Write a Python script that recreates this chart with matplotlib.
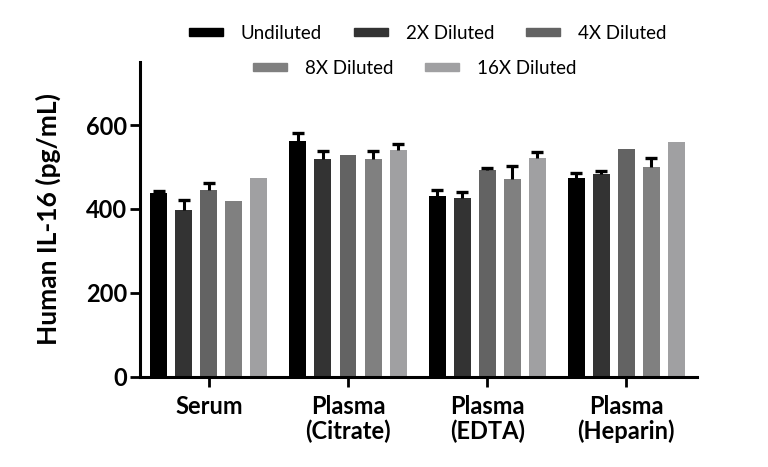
import numpy as np
import matplotlib.pyplot as plt
from matplotlib.patches import Patch

# sample groups and dilution series
groups = ["Serum", "Plasma\n(Citrate)", "Plasma\n(EDTA)", "Plasma\n(Heparin)"]
series = ["Undiluted", "2X Diluted", "4X Diluted", "8X Diluted", "16X Diluted"]
colors = ["#000000", "#333333", "#636363", "#808080", "#a0a0a2"]

# mean values, one list per dilution (order follows groups)
undiluted = [437, 561, 430, 474]
diluted_2x = [398, 519, 426, 483]
diluted_4x = [446, 529, 493, 543]
diluted_8x = [418, 519, 471, 500]
diluted_16x = [475, 541, 521, 560]

# upper error (SD) per dilution
err_undiluted = [5, 20, 15, 11]
err_2x = [24, 20, 14, 7]
err_4x = [15, 0, 4, 0]
err_8x = [0, 20, 32, 22]
err_16x = [0, 15, 14, 0]

values = [undiluted, diluted_2x, diluted_4x, diluted_8x, diluted_16x]
errors = [err_undiluted, err_2x, err_4x, err_8x, err_16x]

plt.rcParams['font.family'] = ['Lato', 'DejaVu Sans']

fig = plt.figure(figsize=(7.68, 4.67), dpi=100)
ax = fig.add_axes([0.182, 0.193, 0.726, 0.674])

x = np.arange(len(groups))
width = 0.122
step = 0.18

handles = []
for i in range(len(series)):
    pos = x + (i - 2) * step
    vals = np.array(values[i])
    err = np.array(errors[i])
    ax.bar(pos, vals, width, color=colors[i], zorder=2)
    # upper-only error bars: stem plus a cap on top
    m = err > 0
    ax.vlines(pos[m], vals[m], vals[m] + err[m], color='black', lw=2.2, zorder=3)
    ax.plot(pos[m], vals[m] + err[m], ls='none', marker='_', ms=8, mew=2.4,
            color='black', zorder=3)
    handles.append(Patch(color=colors[i], label=series[i]))

ax.set_xlim(-0.496, 3.51)
ax.set_ylim(0, 750)
ax.set_yticks([0, 200, 400, 600])
ax.set_xticks(x)
ax.set_xticklabels(groups, fontsize=17, fontweight='bold', linespacing=1.1)
ax.tick_params(axis='y', labelsize=17, width=2, length=7, pad=2)
ax.tick_params(axis='x', width=2, length=7, pad=6)
for lab in ax.get_yticklabels():
    lab.set_fontweight('bold')

ax.spines['top'].set_visible(False)
ax.spines['right'].set_visible(False)
ax.spines['left'].set_linewidth(2.2)
ax.spines['bottom'].set_linewidth(2.2)

ax.set_ylabel("Human IL-16 (pg/mL)", fontsize=19, fontweight='bold', labelpad=18)

# legend in two centred rows
kw = dict(loc='center', frameon=False, fontsize=13.5, handlelength=1.8,
          handleheight=0.32, handletextpad=0.95, columnspacing=1.7)
leg1 = fig.legend(handles=handles[:3], bbox_to_anchor=(0.557, 0.929), ncol=3, **kw)
leg2 = fig.legend(handles=handles[3:], bbox_to_anchor=(0.54, 0.854), ncol=2, **kw)

fig.savefig("out.png", dpi=100)
